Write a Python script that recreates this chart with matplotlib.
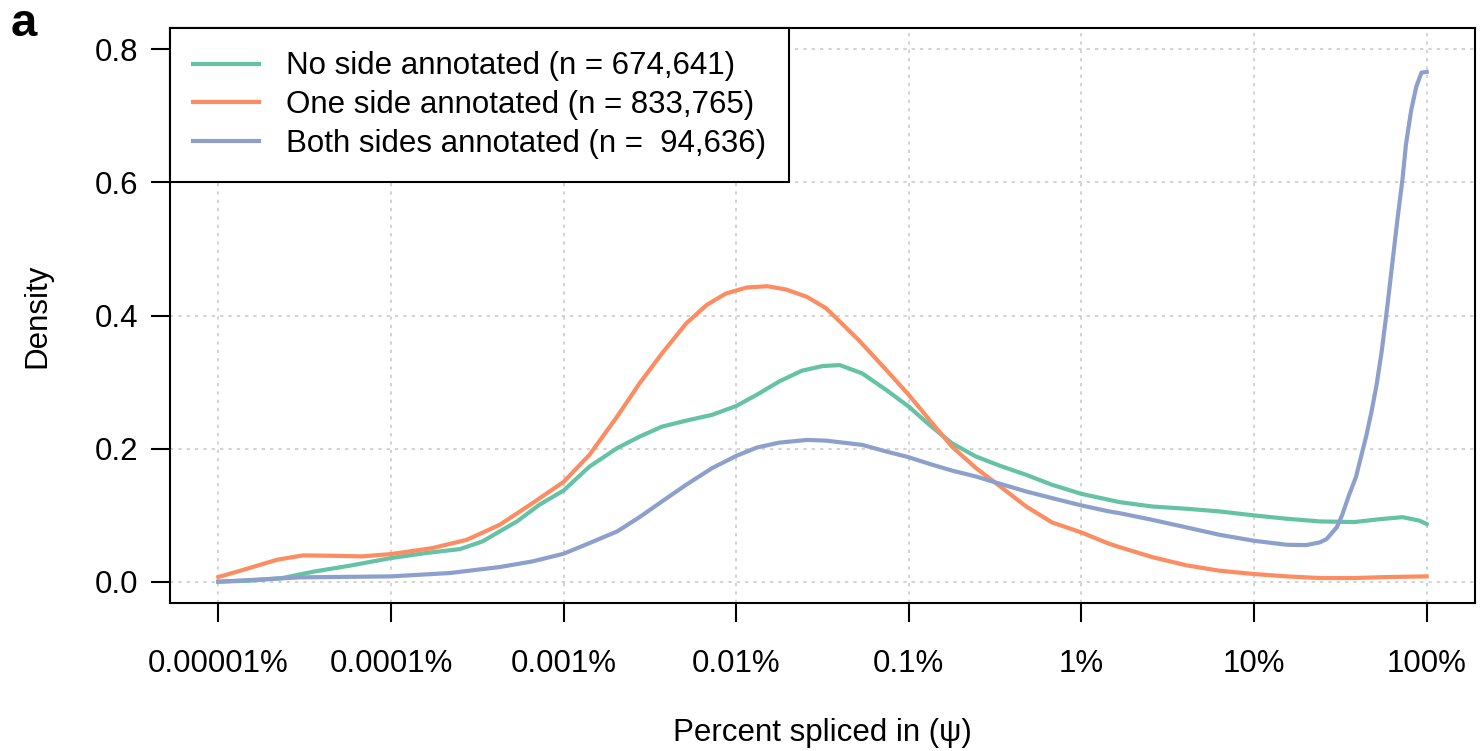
"""Density of percent spliced in (psi) by junction annotation status, log10 x axis."""
import matplotlib

matplotlib.use("Agg")
import matplotlib.pyplot as plt

plt.rcParams["font.family"] = ["Liberation Sans", "DejaVu Sans"]

# --- data ---------------------------------------------------------------
# x values are log10(psi), psi as a fraction (1e-7 = 0.00001%, 1 = 100%)
green_x = [-7.00, -6.82, -6.63, -6.44, -6.24, -6.00, -5.80, -5.60, -5.47, -5.27, -5.14, -5.00,
           -4.85, -4.69, -4.56, -4.43, -4.29, -4.14, -4.00, -3.88, -3.75, -3.62, -3.50, -3.40,
           -3.27, -3.13, -3.00, -2.88, -2.75, -2.61, -2.47, -2.32, -2.17, -2.00, -1.84, -1.78,
           -1.59, -1.39, -1.20, -1.00, -0.81, -0.62, -0.42, -0.27, -0.14, -0.04, 0.00]
green_y = [0.000, 0.0015, 0.0055, 0.0155, 0.024, 0.0355, 0.043, 0.049, 0.0605, 0.0906, 0.1156,
           0.137, 0.173, 0.2006, 0.218, 0.233, 0.242, 0.2507, 0.264, 0.281, 0.301, 0.317, 0.324,
           0.3255, 0.313, 0.288, 0.263, 0.2356, 0.208, 0.188, 0.174, 0.1606, 0.1456, 0.132,
           0.123, 0.1196, 0.113, 0.1096, 0.1056, 0.0996, 0.0946, 0.0906, 0.0896, 0.094, 0.097,
           0.0916, 0.0866]

orange_x = [-7.00, -6.82, -6.66, -6.51, -6.34, -6.17, -6.00, -5.76, -5.56, -5.37, -5.18, -5.00,
            -4.85, -4.69, -4.56, -4.43, -4.29, -4.17, -4.06, -3.94, -3.82, -3.71, -3.59, -3.48,
            -3.40, -3.29, -3.13, -3.00, -2.88, -2.75, -2.61, -2.47, -2.32, -2.17, -2.00, -1.84,
            -1.78, -1.59, -1.39, -1.20, -1.00, -0.81, -0.62, -0.42, -0.23, 0.00]
orange_y = [0.007, 0.0205, 0.033, 0.0395, 0.039, 0.038, 0.0415, 0.0505, 0.063, 0.0855, 0.118,
            0.150, 0.1906, 0.248, 0.298, 0.343, 0.388, 0.416, 0.433, 0.442, 0.444, 0.439, 0.428,
            0.411, 0.391, 0.363, 0.318, 0.2807, 0.243, 0.203, 0.1706, 0.143, 0.113, 0.089,
            0.074, 0.057, 0.052, 0.037, 0.0245, 0.0165, 0.0115, 0.008, 0.0055, 0.0055, 0.007,
            0.008]

blue_x = [-7.00, -6.53, -6.00, -5.66, -5.37, -5.18, -5.00, -4.85, -4.69, -4.56, -4.43, -4.29,
          -4.14, -4.00, -3.88, -3.75, -3.59, -3.48, -3.27, -3.13, -3.00, -2.88, -2.75, -2.61,
          -2.47, -2.32, -2.17, -2.00, -1.84, -1.78, -1.59, -1.39, -1.20, -1.00, -0.81, -0.70,
          -0.62, -0.58, -0.52, -0.49, -0.45, -0.41, -0.38, -0.35, -0.32, -0.29, -0.26, -0.23,
          -0.20, -0.17, -0.14, -0.12, -0.09, -0.06, -0.03, 0.00]
blue_y = [0.000, 0.0065, 0.008, 0.013, 0.022, 0.0305, 0.042, 0.058, 0.0755, 0.097, 0.1206,
          0.1456, 0.1706, 0.189, 0.2016, 0.209, 0.213, 0.212, 0.2056, 0.1956, 0.187, 0.177,
          0.167, 0.158, 0.147, 0.1356, 0.1256, 0.1146, 0.1056, 0.103, 0.093, 0.0815, 0.0705,
          0.0615, 0.0555, 0.055, 0.059, 0.064, 0.082, 0.100, 0.130, 0.157, 0.188, 0.219, 0.255,
          0.296, 0.347, 0.409, 0.476, 0.543, 0.605, 0.657, 0.708, 0.744, 0.765, 0.766]

labels = [
    "No side annotated (n = 674,641)",
    "One side annotated (n = 833,765)",
    "Both sides annotated (n =  94,636)",
]
colors = ["#66C2A5", "#FC8D62", "#8DA0CB"]

x_ticks = [-7, -6, -5, -4, -3, -2, -1, 0]
x_ticklabels = ["0.00001%", "0.0001%", "0.001%", "0.01%", "0.1%", "1%", "10%", "100%"]
y_ticks = [0.0, 0.2, 0.4, 0.6, 0.8]
# -------------------------------------------------------------------------

FS = 22.5

fig = plt.figure(figsize=(14.81, 7.51), dpi=100)
ax = fig.add_axes([170 / 1481, 1 - 603 / 751, 1305 / 1481, 575 / 751])

series = [(green_x, green_y), (orange_x, orange_y), (blue_x, blue_y)]
for (xs, ys), col, lab in zip(series, colors, labels):
    ax.plot(xs, ys, color=col, lw=3, label=lab, solid_joinstyle="round", zorder=3)

ax.set_xlim(-7.28, 0.28)
ax.set_ylim(-0.032, 0.832)
ax.set_xticks(x_ticks)
ax.set_xticklabels(x_ticklabels)
ax.set_yticks(y_ticks)
ax.set_yticklabels([f"{v:.1f}" for v in y_ticks])

ax.grid(True, color="#cccccc", lw=1.2, linestyle=(0, (2, 3)), zorder=0)
for s in ax.spines.values():
    s.set_linewidth(1.5)
    s.set_color("black")
ax.tick_params(axis="both", labelsize=FS, length=14, width=1.5, color="black")
ax.tick_params(axis="x", pad=19)
ax.tick_params(axis="y", pad=9)

ax.set_ylabel("Density", fontsize=FS, labelpad=30)
ax.set_xlabel("Percent spliced in (\u03c8)", fontsize=FS, labelpad=28)

leg = ax.legend(loc="upper left", bbox_to_anchor=(0, 1), borderaxespad=0, fontsize=FS,
                frameon=True, fancybox=False, edgecolor="black", framealpha=1,
                handlelength=2.1, handletextpad=0.85, labelspacing=0.28,
                borderpad=0.75)
leg.get_frame().set_linewidth(1.5)

fig.text(11 / 1481, 1 - 24 / 751, "a", fontsize=34, fontweight="bold", va="center", ha="left")

fig.savefig("out.png", dpi=100)
